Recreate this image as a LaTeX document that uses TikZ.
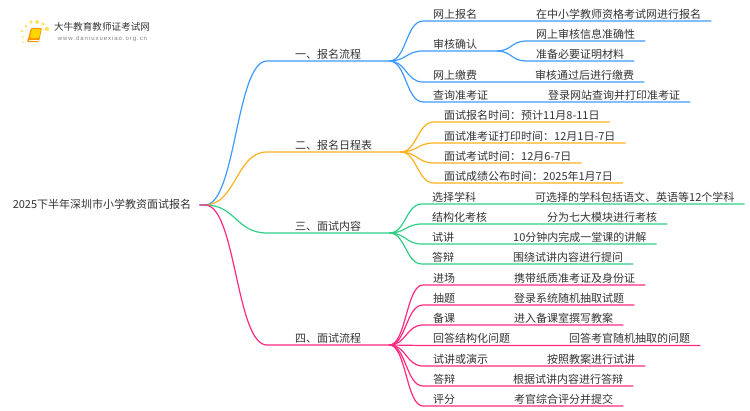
\documentclass[tikz,border=0pt]{standalone}
\usepackage{fontspec}
\setmainfont{Noto Sans CJK SC}
\newfontfamily\urlfont{Liberation Sans}[LetterSpace=16]
\usetikzlibrary{calc}
\definecolor{inkgray}{HTML}{333333}
\definecolor{bluelink}{HTML}{3D9BFF}
\definecolor{orangelink}{HTML}{FFB01F}
\definecolor{greenlink}{HTML}{2FCF85}
\definecolor{pinklink}{HTML}{FF2A80}
\tikzset{
  item/.style={anchor=south west, inner xsep=10pt, inner ysep=1.5pt, text height=8.5pt, text depth=1pt, text=inkgray, font=\fontsize{11}{13}\selectfont},
  branch/.style={item, inner xsep=28pt},
  wire/.style={line width=1.2pt, line join=round},
  link/.style={to path={let \p1=(\tikztostart), \p2=(\tikztotarget), \n1={0.5*(\x1+\x2)} in .. controls (\n1,\y1) and (\n1,\y2) .. (\p2)}}
}
\begin{document}
\begin{tikzpicture}[x=1pt,y=-1pt]
\useasboundingbox (0,0) rectangle (750,410);
% Logo
\foreach \px/\py/\pr in {23/42/0.8, 23/37/1, 22/31/1.3, 26/26/1.5, 31/22/1.8, 37/22/2, 43/24/1.9, 47/29/2.2}
  \fill[yellow!70!orange!60] (\px,\py) circle (\pr);
\fill[orange!85!yellow, rounded corners=1pt] (31,28) -- (42,28) -- (39,42) -- (27,42) -- cycle;
\fill[yellow!75!orange, rounded corners=1pt] (32,29) -- (41,29) -- (39,38) -- (30,38) -- cycle;
\draw[white, line width=0.7pt] (28.5,40) -- (38.5,40);
\node[inner sep=0pt, text=inkgray, font=\fontsize{9.6}{11}\selectfont] (logotitle) at (102,27) {大牛教育教师证考试网};
\node[inner sep=0pt, text=gray, font=\fontsize{6}{7}\urlfont] (logourl) at (102.5,39) {www.daniuxuexiao.org.cn};

% Root and branches
\node[item, anchor=center, inner xsep=8pt] (root) at (102,205) {2025下半年深圳市小学教资面试报名};
\coordinate (hub) at (205,205);
\node[branch] (b1) at (267,61) {一、报名流程};
\node[branch] (b2) at (267,152) {二、报名日程表};
\node[branch] (b3) at (267,233) {三、面试内容};
\node[branch] (b4) at (267,345) {四、面试流程};

% Branch one
\node[item] (a1) at (423,21) {网上报名};
\node[item] (a1x) at (526,21) {在中小学教师资格考试网进行报名};
\node[item] (a2) at (423,51) {审核确认};
\coordinate (a2fork) at (497,51);
\node[item] (a2x) at (526,41) {网上审核信息准确性};
\node[item] (a2y) at (526,61) {准备必要证明材料};
\node[item] (a3) at (423,82) {网上缴费};
\node[item] (a3x) at (525,82) {审核通过后进行缴费};
\node[item] (a4) at (423,102) {查询准考证};
\node[item] (a4x) at (538,102) {登录网站查询并打印准考证};

% Branch two
\node[item] (c1) at (434,122) {面试报名时间：预计11月8-11日};
\node[item] (c2) at (434,143) {面试准考证打印时间：12月1日-7日};
\node[item] (c3) at (434,163) {面试考试时间：12月6-7日};
\node[item] (c4) at (434,183) {面试成绩公布时间：2025年1月7日};

% Branch three
\node[item] (d1) at (422,204) {选择学科};
\node[item] (d1x) at (525,204) {可选择的学科包括语文、英语等12个学科};
\node[item] (d2) at (422,224) {结构化考核};
\node[item] (d2x) at (537,224) {分为七大模块进行考核};
\node[item] (d3) at (422,244) {试讲};
\node[item] (d3x) at (503,244) {10分钟内完成一堂课的讲解};
\node[item] (d4) at (422,264) {答辩};
\node[item] (d4x) at (503,264) {围绕试讲内容进行提问};

% Branch four
\node[item] (e1) at (423,285) {进场};
\node[item] (e1x) at (504,285) {携带纸质准考证及身份证};
\node[item] (e2) at (423,305) {抽题};
\node[item] (e2x) at (504,305) {登录系统随机抽取试题};
\node[item] (e3) at (423,325) {备课};
\node[item] (e3x) at (504,325) {进入备课室撰写教案};
\node[item] (e4) at (423,345.5) {回答结构化问题};
\node[item] (e4x) at (559,345.5) {回答考官随机抽取的问题};
\node[item] (e5) at (423,366) {试讲或演示};
\node[item] (e5x) at (537,366) {按照教案进行试讲};
\node[item] (e6) at (423,386) {答辩};
\node[item] (e6x) at (503,386) {根据试讲内容进行答辩};
\node[item] (e7) at (423,406) {评分};
\node[item] (e7x) at (504,406) {考官综合评分并提交};

% Blue connectors
\draw[wire, bluelink] (root.east) -- (hub) to[link] (b1.south west) -- (b1.south east);
\draw[wire, bluelink] (b1.south east) to[link] (a1.south west) -- (a1x.south east);
\draw[wire, bluelink] (b1.south east) to[link] (a2.south west) -- (a2fork);
\draw[wire, bluelink] (a2fork) to[link] (a2x.south west) -- (a2x.south east);
\draw[wire, bluelink] (a2fork) to[link] (a2y.south west) -- (a2y.south east);
\draw[wire, bluelink] (b1.south east) to[link] (a3.south west) -- (a3x.south east);
\draw[wire, bluelink] (b1.south east) to[link] (a4.south west) -- (a4x.south east);

% Orange connectors
\draw[wire, orangelink] (hub) to[link] (b2.south west) -- (b2.south east);
\draw[wire, orangelink] (b2.south east) to[link] (c1.south west) -- (c1.south east);
\draw[wire, orangelink] (b2.south east) to[link] (c2.south west) -- (c2.south east);
\draw[wire, orangelink] (b2.south east) to[link] (c3.south west) -- (c3.south east);
\draw[wire, orangelink] (b2.south east) to[link] (c4.south west) -- (c4.south east);

% Green connectors
\draw[wire, greenlink] (hub) to[link] (b3.south west) -- (b3.south east);
\draw[wire, greenlink] (b3.south east) to[link] (d1.south west) -- (d1x.south east);
\draw[wire, greenlink] (b3.south east) to[link] (d2.south west) -- (d2x.south east);
\draw[wire, greenlink] (b3.south east) to[link] (d3.south west) -- (d3x.south east);
\draw[wire, greenlink] (b3.south east) to[link] (d4.south west) -- (d4x.south east);

% Pink connectors
\draw[wire, pinklink] (root.east) -- (hub) to[link] (b4.south west) -- (b4.south east);
\draw[wire, pinklink] (b4.south east) to[link] (e1.south west) -- (e1x.south east);
\draw[wire, pinklink] (b4.south east) to[link] (e2.south west) -- (e2x.south east);
\draw[wire, pinklink] (b4.south east) to[link] (e3.south west) -- (e3x.south east);
\draw[wire, pinklink] (b4.south east) to[link] (e4.south west) -- (e4x.south east);
\draw[wire, pinklink] (b4.south east) to[link] (e5.south west) -- (e5x.south east);
\draw[wire, pinklink] (b4.south east) to[link] (e6.south west) -- (e6x.south east);
\draw[wire, pinklink] (b4.south east) to[link] (e7.south west) -- (e7x.south east);
\end{tikzpicture}
\end{document}
